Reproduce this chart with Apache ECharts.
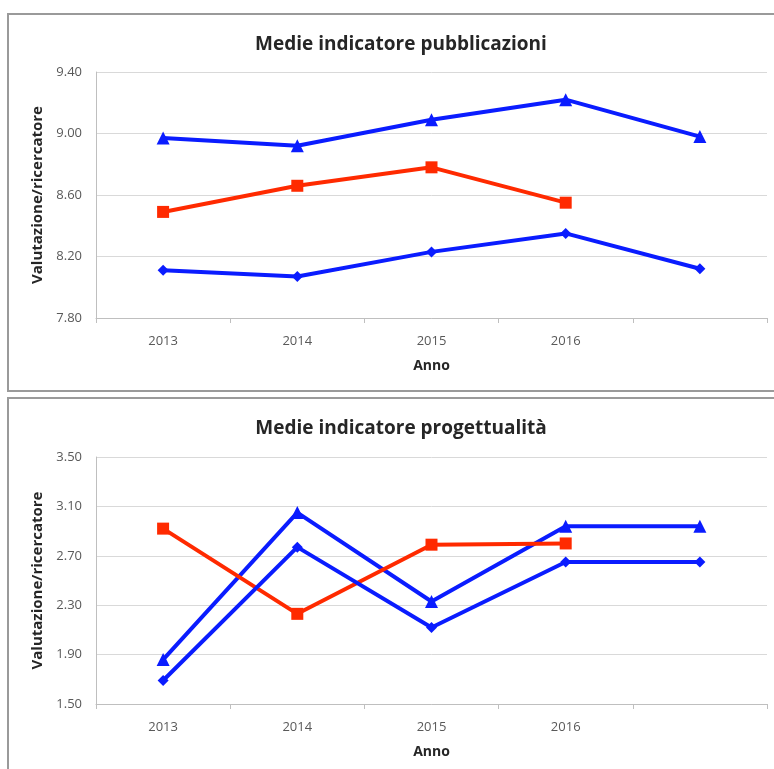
<!DOCTYPE html>
<html>
<head>
<meta charset="utf-8">
<script src="https://cdn.jsdelivr.net/npm/echarts@6/dist/echarts.min.js"></script>
<style>
html,body{margin:0;padding:0;background:#fff;}
#c{width:774px;height:769px;}
</style>
</head>
<body>
<div id="c"></div>
<script>
const categories = ['2013', '2014', '2015', '2016', ''];

// Medie indicatore pubblicazioni
const pubTriangle = [8.97, 8.92, 9.09, 9.22, 8.98];
const pubSquare = [8.49, 8.66, 8.78, 8.55];
const pubDiamond = [8.11, 8.07, 8.23, 8.35, 8.12];

// Medie indicatore progettualità
const progTriangle = [1.86, 3.05, 2.33, 2.94, 2.94];
const progSquare = [2.92, 2.23, 2.79, 2.80];
const progDiamond = [1.69, 2.77, 2.12, 2.65, 2.65];

const titles = ['Medie indicatore pubblicazioni', 'Medie indicatore progettualità'];
const yName = 'Valutazione/ricercatore';
const xName = 'Anno';

const BLUE = '#0a1cff';
const RED = '#ff2a00';
const FONT = 'Open Sans';

const chart = echarts.init(document.getElementById('c'), null, {renderer: 'canvas'});

function xAxis(gi) {
  return {
    type: 'category', gridIndex: gi, data: categories, boundaryGap: true,
    name: xName, nameLocation: 'middle', nameGap: 41,
    nameTextStyle: {fontFamily: FONT, fontWeight: 'bold', fontSize: 14, color: '#262626'},
    axisLine: {lineStyle: {color: '#bfbfbf', width: 1}},
    axisTick: {show: true, length: 5, lineStyle: {color: '#bfbfbf'}},
    axisLabel: {fontFamily: FONT, fontSize: 13, color: '#595959', margin: 17},
    splitLine: {show: false}
  };
}
function yAxis(gi, min, max) {
  return {
    type: 'value', gridIndex: gi, min: min, max: max, interval: 0.4,
    name: yName, nameLocation: 'middle', nameGap: 47, nameRotate: 90,
    nameTextStyle: {fontFamily: FONT, fontWeight: 'bold', fontSize: 15, color: '#262626'},
    axisLine: {show: true, lineStyle: {color: '#bfbfbf', width: 1}},
    axisTick: {show: false},
    axisLabel: {fontFamily: FONT, fontSize: 13, color: '#595959', margin: 14,
      formatter: v => v.toFixed(2)},
    splitLine: {show: true, lineStyle: {color: '#d9d9d9', width: 1}}
  };
}
function line(gi, data, color, symbol, size) {
  return {
    type: 'line', xAxisIndex: gi, yAxisIndex: gi, data: data,
    symbol: symbol, symbolSize: size, showSymbol: true,
    lineStyle: {color: color, width: 4},
    itemStyle: {color: color},
    animation: false, z: 3
  };
}

chart.setOption({
  animation: false,
  backgroundColor: '#fff',
  title: [
    {text: titles[0], left: 396, top: 30, textAlign: 'center',
     textStyle: {fontFamily: FONT, fontWeight: 'bold', fontSize: 19, color: '#262626'}},
    {text: titles[1], left: 396, top: 414, textAlign: 'center',
     textStyle: {fontFamily: FONT, fontWeight: 'bold', fontSize: 19, color: '#262626'}}
  ],
  graphic: [
    {type: 'rect', shape: {x: 8, y: 14, width: 800, height: 377},
     style: {fill: 'none', stroke: '#9a9a9a', lineWidth: 2}, z: -1},
    {type: 'rect', shape: {x: 8, y: 398, width: 800, height: 400},
     style: {fill: 'none', stroke: '#9a9a9a', lineWidth: 2}, z: -1}
  ],
  grid: [
    {left: 96, right: 7, top: 72, height: 246},
    {left: 96, right: 7, top: 457, height: 247}
  ],
  xAxis: [xAxis(0), xAxis(1)],
  yAxis: [yAxis(0, 7.8, 9.4), yAxis(1, 1.5, 3.5)],
  series: [
    line(0, pubTriangle, BLUE, 'triangle', 13),
    line(0, pubSquare, RED, 'rect', 12),
    line(0, pubDiamond, BLUE, 'diamond', 11),
    line(1, progTriangle, BLUE, 'triangle', 13),
    line(1, progSquare, RED, 'rect', 12),
    line(1, progDiamond, BLUE, 'diamond', 11)
  ]
});
</script>
</body>
</html>
